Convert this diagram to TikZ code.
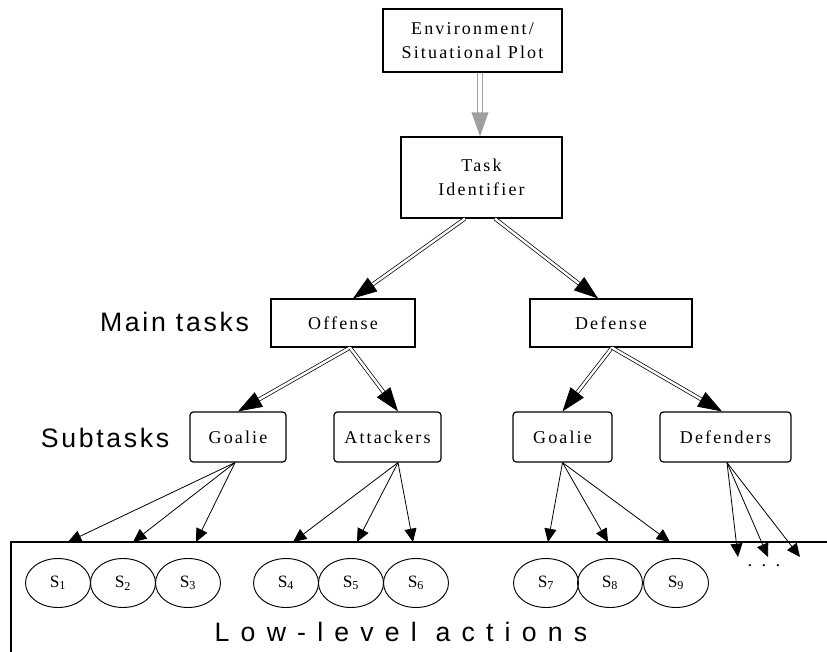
\documentclass[tikz,border=0pt]{standalone}
\usepackage{fontspec}
\setmainfont{Liberation Serif}
\newfontfamily\boxfont[LetterSpace=12]{Liberation Serif}
\newfontfamily\tierfont[LetterSpace=10]{Liberation Sans}
\newfontfamily\widefont[LetterSpace=42]{Liberation Sans}
\usetikzlibrary{arrows.meta,shapes.geometric,calc}

% double-lined connector: shaft plus a separate filled head
\newcommand{\dblconn}[4][]{%
  \draw[dblshaft,shorten >=#4-3pt,#1] (#2) -- (#3);
  \draw[dblhead,#1] ($(#3)!#4!(#2)$) -- (#3);
}

\begin{document}
\begin{tikzpicture}[x=0.75pt,y=-0.75pt,
  box/.style={draw, line width=0.9pt, inner sep=0pt, minimum height=36pt,
    font=\boxfont\fontsize{13.5}{18.5}\selectfont, align=center},
  subbox/.style={box, rounded corners=2.5pt, minimum height=37.5pt},
  state/.style={draw, ellipse, line width=0.7pt, inner sep=0pt,
    minimum width=48.75pt, minimum height=36.75pt,
    font=\boxfont\fontsize{13}{15}\selectfont},
  tier/.style={font=\tierfont\fontsize{20}{24}\selectfont},
  dblshaft/.style={double, line width=0.55pt, double distance=1.8pt},
  dblhead/.style={-{Triangle[length=18pt,width=12.5pt]}, line width=0.5pt},
  grayconn/.style={gray!75, line width=1.1pt, double distance=2.6pt},
  thinarrow/.style={-{Triangle[length=10pt,width=9pt]}, line width=0.6pt},
]
\useasboundingbox (0,0) rectangle (827,652);

% hierarchy boxes
\node[box, minimum width=134.25pt, minimum height=47.25pt] (env) at (472.5,40.5) {Environment/\\Situational Plot};
\node[box, minimum width=120.75pt, minimum height=60.75pt] (ti) at (481.5,177.5) {Task\\Identifier};
\node[box, minimum width=108pt] (off) at (343,323) {Offense};
\node[box, minimum width=121.5pt] (def) at (611,323) {Defense};
\node[subbox, minimum width=72pt] (g1) at (238,437) {Goalie};
\node[subbox, minimum width=80.25pt] (att) at (387.5,437) {Attackers};
\node[subbox, minimum width=74.25pt] (g2) at (562.5,437) {Goalie};
\node[subbox, minimum width=98.25pt] (dfd) at (725.5,437) {Defenders};

% tier labels
\node[tier] (mainlbl) at (174.5,322) {Main tasks};
\node[tier] (sublbl) at (105,438) {Subtasks};

% low-level action area
\coordinate (llTR) at (827,542);
\coordinate (llTL) at (11,542);
\coordinate (llBL) at (11,652);
\draw[line width=0.9pt] (llTR) -- (llTL) -- (llBL);
\node[font=\widefont\fontsize{20}{24}\selectfont] (lla) at (401,632) {Low-level actions};

\node[state] (s1) at (58,583) {S\textsubscript{1}};
\node[state] (s2) at (123,583) {S\textsubscript{2}};
\node[state] (s3) at (188,583) {S\textsubscript{3}};
\node[state] (s4) at (286,583) {S\textsubscript{4}};
\node[state] (s5) at (351,583) {S\textsubscript{5}};
\node[state] (s6) at (416,583) {S\textsubscript{6}};
\node[state] (s7) at (546,583) {S\textsubscript{7}};
\node[state] (s8) at (610,583) {S\textsubscript{8}};
\node[state] (s9) at (676,583) {S\textsubscript{9}};
\node[font=\fontsize{14}{16}\selectfont] (more) at (764,566) {.\,\,\,.\,\,\,.};

% attachment points
\coordinate (envOut) at ($(env.south)+(7.5,0)$);
\coordinate (tiIn) at ($(ti.north)+(-1.5,0)$);
\coordinate (tiL) at ($(ti.south)+(-16.5,0)$);
\coordinate (tiR) at ($(ti.south)+(13.5,0)$);
\coordinate (offIn) at ($(off.north)+(10,0)$);
\coordinate (defIn) at ($(def.north)+(-13,0)$);
\coordinate (offOut) at ($(off.south)+(7,0)$);
\coordinate (defOut) at ($(def.south)+(1,0)$);
\coordinate (g1In) at (g1.north);
\coordinate (attIn) at ($(att.north)+(10.5,0)$);
\coordinate (g2In) at (g2.north);
\coordinate (dfdIn) at ($(dfd.north)+(-3.5,0)$);
\coordinate (g1Out) at ($(g1.south)+(-3,0)$);
\coordinate (attOut) at ($(att.south)+(10.5,0)$);
\coordinate (g2Out) at (g2.south);
\coordinate (dfdOut) at ($(dfd.south)+(1.5,0)$);
\coordinate (a1) at (68,542);
\coordinate (a2) at (133,542);
\coordinate (a3) at (196,542);
\coordinate (a4) at (293,542);
\coordinate (a5) at (357,542);
\coordinate (a6) at (413,542);
\coordinate (a7) at (548,542);
\coordinate (a8) at (608,542);
\coordinate (a9) at (670,542);
\coordinate (b1) at (738,557);
\coordinate (b2) at (768,557);
\coordinate (b3) at (800,557);

% double connectors
\dblconn[grayconn]{envOut}{tiIn}{20pt}
\dblconn{tiL}{offIn}{18pt}
\dblconn{tiR}{defIn}{18pt}
\dblconn{offOut}{g1In}{18pt}
\dblconn{offOut}{attIn}{18pt}
\dblconn{defOut}{g2In}{18pt}
\dblconn{defOut}{dfdIn}{18pt}

% single connectors to low-level actions
\foreach \t in {a1,a2,a3} \draw[thinarrow] (g1Out) -- (\t);
\foreach \t in {a4,a5,a6} \draw[thinarrow] (attOut) -- (\t);
\foreach \t in {a7,a8,a9} \draw[thinarrow] (g2Out) -- (\t);
\foreach \t in {b1,b2,b3} \draw[thinarrow] (dfdOut) -- (\t);
\end{tikzpicture}
\end{document}
